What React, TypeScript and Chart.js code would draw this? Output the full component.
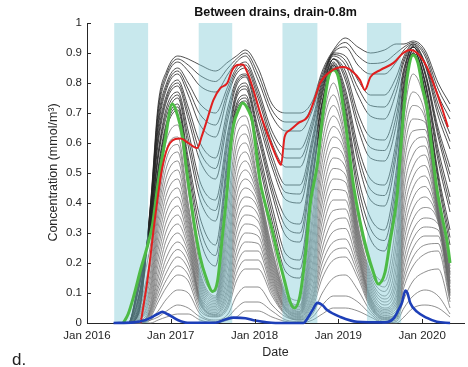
import { useEffect, useRef } from 'react';
import { Chart, registerables } from 'chart.js';

Chart.register(...registerables);

const FONT = "'Liberation Sans', Arial, Helvetica, sans-serif";

// x values are months since Jan 2016
const XTICK_VALUES = [0, 12, 24, 36, 48];
const XTICK_LABELS = ['Jan 2016', 'Jan 2017', 'Jan 2018', 'Jan 2019', 'Jan 2020'];
const YTICK_VALUES = [0, 0.1, 0.2, 0.3, 0.4, 0.5, 0.6, 0.7, 0.8, 0.9, 1];

// growing-season shaded bands (months since Jan 2016)
const BAND_START = [3.9, 16.0, 28.0, 40.1];
const BAND_END = [8.75, 20.8, 33.0, 45.0];

// shared sampling months for the family of depth curves
const GRID_MONTHS = [4.1, 5.9, 7.4, 9.1, 10.2, 11.4, 13.0, 14.5, 16.2, 18.4, 20.2, 21.4, 22.7, 24.5, 26.5, 28.5, 30.5, 32.3, 33.7, 35.3, 37.0, 38.8, 40.6, 42.6, 44.3, 45.4, 46.7, 48.4, 50.3, 52.0];

// upper (dark) curves, from the top envelope downward
const DARK_0 = [0, 0, 0.03, 0.40, 0.73, 0.84, 0.89, 0.88, 0.86, 0.84, 0.87, 0.89, 0.91, 0.85, 0.73, 0.70, 0.70, 0.74, 0.84, 0.91, 0.95, 0.92, 0.90, 0.91, 0.93, 0.93, 0.94, 0.91, 0.80, 0.73];
const DARK_1 = [0, 0, 0.035, 0.395, 0.715, 0.83, 0.88, 0.86, 0.825, 0.805, 0.85, 0.88, 0.90, 0.83, 0.71, 0.67, 0.67, 0.725, 0.83, 0.905, 0.935, 0.89, 0.865, 0.87, 0.90, 0.92, 0.935, 0.90, 0.78, 0.705];
const DARK_2 = [0, 0, 0.04, 0.39, 0.70, 0.82, 0.87, 0.84, 0.79, 0.77, 0.83, 0.87, 0.89, 0.81, 0.69, 0.64, 0.64, 0.71, 0.82, 0.90, 0.92, 0.86, 0.83, 0.83, 0.87, 0.91, 0.93, 0.89, 0.76, 0.68];
const DARK_3 = [0, 0, 0.05, 0.38, 0.68, 0.80, 0.85, 0.80, 0.73, 0.70, 0.79, 0.85, 0.87, 0.78, 0.64, 0.58, 0.58, 0.68, 0.81, 0.90, 0.89, 0.81, 0.76, 0.76, 0.82, 0.89, 0.93, 0.87, 0.73, 0.63];
const DARK_4 = [0, 0, 0.06, 0.375, 0.665, 0.79, 0.84, 0.78, 0.695, 0.66, 0.775, 0.84, 0.86, 0.765, 0.62, 0.55, 0.55, 0.665, 0.80, 0.895, 0.875, 0.785, 0.725, 0.72, 0.795, 0.88, 0.925, 0.865, 0.71, 0.605];
const DARK_5 = [0, 0, 0.07, 0.37, 0.65, 0.78, 0.83, 0.76, 0.66, 0.62, 0.76, 0.83, 0.85, 0.75, 0.60, 0.52, 0.52, 0.65, 0.79, 0.89, 0.86, 0.76, 0.69, 0.68, 0.77, 0.87, 0.92, 0.86, 0.69, 0.58];
const DARK_6 = [0, 0, 0.08, 0.36, 0.63, 0.76, 0.81, 0.72, 0.60, 0.55, 0.72, 0.81, 0.83, 0.72, 0.56, 0.46, 0.46, 0.62, 0.78, 0.88, 0.84, 0.70, 0.62, 0.61, 0.72, 0.85, 0.92, 0.84, 0.65, 0.52];
const DARK_7 = [0, 0, 0.085, 0.355, 0.615, 0.75, 0.80, 0.70, 0.57, 0.515, 0.70, 0.80, 0.825, 0.70, 0.54, 0.435, 0.43, 0.605, 0.77, 0.88, 0.825, 0.675, 0.585, 0.575, 0.69, 0.84, 0.92, 0.835, 0.635, 0.495];
const DARK_8 = [0, 0, 0.09, 0.35, 0.60, 0.74, 0.79, 0.68, 0.54, 0.48, 0.68, 0.79, 0.82, 0.68, 0.52, 0.41, 0.40, 0.59, 0.76, 0.88, 0.81, 0.65, 0.55, 0.54, 0.66, 0.83, 0.92, 0.83, 0.62, 0.47];
const DARK_9 = [0, 0, 0.11, 0.34, 0.57, 0.72, 0.77, 0.64, 0.47, 0.41, 0.64, 0.77, 0.80, 0.65, 0.47, 0.35, 0.33, 0.56, 0.74, 0.87, 0.78, 0.59, 0.48, 0.46, 0.61, 0.81, 0.91, 0.81, 0.58, 0.42];
const DARK_10 = [0, 0, 0.115, 0.335, 0.56, 0.705, 0.76, 0.615, 0.44, 0.375, 0.62, 0.76, 0.79, 0.635, 0.45, 0.32, 0.30, 0.545, 0.735, 0.865, 0.765, 0.565, 0.445, 0.425, 0.585, 0.795, 0.91, 0.805, 0.56, 0.395];
const DARK_11 = [0, 0, 0.12, 0.33, 0.55, 0.69, 0.75, 0.59, 0.41, 0.34, 0.60, 0.75, 0.78, 0.62, 0.43, 0.29, 0.27, 0.53, 0.73, 0.86, 0.75, 0.54, 0.41, 0.39, 0.56, 0.78, 0.91, 0.80, 0.54, 0.37];
const DARK_12 = [0, 0, 0.13, 0.32, 0.52, 0.67, 0.73, 0.55, 0.35, 0.26, 0.57, 0.73, 0.76, 0.59, 0.39, 0.23, 0.21, 0.50, 0.71, 0.86, 0.73, 0.49, 0.35, 0.31, 0.51, 0.76, 0.90, 0.78, 0.50, 0.31];
const DARK_13 = [0, 0, 0.135, 0.315, 0.51, 0.66, 0.72, 0.53, 0.315, 0.225, 0.55, 0.72, 0.75, 0.57, 0.365, 0.20, 0.18, 0.485, 0.705, 0.855, 0.715, 0.46, 0.315, 0.275, 0.48, 0.75, 0.90, 0.775, 0.485, 0.285];
const DARK_14 = [0, 0, 0.14, 0.31, 0.50, 0.65, 0.71, 0.51, 0.28, 0.19, 0.53, 0.71, 0.74, 0.55, 0.34, 0.17, 0.15, 0.47, 0.70, 0.85, 0.70, 0.43, 0.28, 0.24, 0.45, 0.74, 0.90, 0.77, 0.47, 0.26];

// lower (grey) curves nested below the green one, from the top downward
const GREY_0 = [0, 0, 0.09, 0.26, 0.45, 0.61, 0.66, 0.44, 0.19, 0.105, 0.45, 0.66, 0.69, 0.50, 0.28, 0.10, 0.075, 0.40, 0.66, 0.80, 0.645, 0.355, 0.19, 0.14, 0.35, 0.68, 0.83, 0.73, 0.415, 0.20];
const GREY_1 = [0, 0, 0.05, 0.22, 0.42, 0.58, 0.62, 0.40, 0.17, 0.09, 0.40, 0.62, 0.66, 0.47, 0.25, 0.09, 0.06, 0.36, 0.64, 0.76, 0.62, 0.33, 0.17, 0.12, 0.30, 0.64, 0.77, 0.70, 0.40, 0.19];
const GREY_2 = [0, 0, 0.04, 0.195, 0.395, 0.55, 0.595, 0.385, 0.16, 0.085, 0.365, 0.585, 0.63, 0.46, 0.24, 0.085, 0.055, 0.33, 0.605, 0.725, 0.605, 0.32, 0.16, 0.105, 0.26, 0.60, 0.725, 0.685, 0.39, 0.18];
const GREY_3 = [0, 0, 0.03, 0.17, 0.37, 0.52, 0.57, 0.37, 0.15, 0.08, 0.33, 0.55, 0.60, 0.45, 0.23, 0.08, 0.05, 0.30, 0.57, 0.69, 0.59, 0.31, 0.15, 0.09, 0.22, 0.56, 0.68, 0.67, 0.38, 0.17];
const GREY_4 = [0, 0, 0.025, 0.15, 0.345, 0.49, 0.54, 0.355, 0.14, 0.075, 0.30, 0.515, 0.57, 0.44, 0.22, 0.075, 0.045, 0.275, 0.535, 0.655, 0.575, 0.30, 0.14, 0.08, 0.185, 0.52, 0.64, 0.645, 0.375, 0.165];
const GREY_5 = [0, 0, 0.02, 0.13, 0.32, 0.46, 0.51, 0.34, 0.13, 0.07, 0.27, 0.48, 0.54, 0.43, 0.21, 0.07, 0.04, 0.25, 0.50, 0.62, 0.56, 0.29, 0.13, 0.07, 0.15, 0.48, 0.60, 0.62, 0.37, 0.16];
const GREY_6 = [0, 0, 0.015, 0.115, 0.295, 0.43, 0.48, 0.325, 0.12, 0.065, 0.245, 0.45, 0.51, 0.42, 0.20, 0.065, 0.038, 0.225, 0.465, 0.585, 0.54, 0.28, 0.12, 0.06, 0.125, 0.44, 0.56, 0.59, 0.365, 0.15];
const GREY_7 = [0, 0, 0.01, 0.10, 0.27, 0.40, 0.45, 0.31, 0.11, 0.06, 0.22, 0.42, 0.48, 0.41, 0.19, 0.06, 0.035, 0.20, 0.43, 0.55, 0.52, 0.27, 0.11, 0.05, 0.10, 0.40, 0.52, 0.56, 0.36, 0.14];
const GREY_8 = [0, 0, 0.01, 0.085, 0.245, 0.37, 0.42, 0.295, 0.10, 0.055, 0.195, 0.39, 0.45, 0.395, 0.18, 0.055, 0.032, 0.18, 0.40, 0.515, 0.495, 0.26, 0.10, 0.045, 0.085, 0.365, 0.485, 0.525, 0.355, 0.135];
const GREY_9 = [0, 0, 0.01, 0.07, 0.22, 0.34, 0.39, 0.28, 0.09, 0.05, 0.17, 0.36, 0.42, 0.38, 0.17, 0.05, 0.03, 0.16, 0.37, 0.48, 0.47, 0.25, 0.09, 0.04, 0.07, 0.33, 0.45, 0.49, 0.35, 0.13];
const GREY_10 = [0, 0, 0.005, 0.06, 0.195, 0.31, 0.36, 0.265, 0.085, 0.045, 0.15, 0.33, 0.39, 0.36, 0.16, 0.048, 0.028, 0.14, 0.34, 0.445, 0.44, 0.24, 0.085, 0.035, 0.06, 0.30, 0.415, 0.455, 0.345, 0.12];
const GREY_11 = [0, 0, 0, 0.05, 0.17, 0.28, 0.33, 0.25, 0.08, 0.04, 0.13, 0.30, 0.36, 0.34, 0.15, 0.045, 0.025, 0.12, 0.31, 0.41, 0.41, 0.23, 0.08, 0.03, 0.05, 0.27, 0.38, 0.42, 0.34, 0.11];
const GREY_12 = [0, 0, 0, 0.045, 0.15, 0.25, 0.30, 0.235, 0.075, 0.035, 0.115, 0.27, 0.33, 0.315, 0.14, 0.042, 0.022, 0.105, 0.28, 0.375, 0.38, 0.22, 0.075, 0.025, 0.04, 0.24, 0.345, 0.385, 0.335, 0.105];
const GREY_13 = [0, 0, 0, 0.04, 0.13, 0.22, 0.27, 0.22, 0.07, 0.03, 0.10, 0.24, 0.30, 0.29, 0.13, 0.04, 0.02, 0.09, 0.25, 0.34, 0.35, 0.21, 0.07, 0.02, 0.03, 0.21, 0.31, 0.35, 0.33, 0.10];
const GREY_14 = [0, 0, 0, 0.035, 0.115, 0.195, 0.245, 0.20, 0.065, 0.028, 0.085, 0.215, 0.27, 0.265, 0.12, 0.035, 0.018, 0.08, 0.225, 0.305, 0.315, 0.195, 0.065, 0.018, 0.025, 0.185, 0.28, 0.32, 0.31, 0.095];
const GREY_15 = [0, 0, 0, 0.03, 0.10, 0.17, 0.22, 0.18, 0.06, 0.025, 0.07, 0.19, 0.24, 0.24, 0.11, 0.03, 0.015, 0.07, 0.20, 0.27, 0.28, 0.18, 0.06, 0.015, 0.02, 0.16, 0.25, 0.29, 0.29, 0.09];
const GREY_16 = [0, 0, 0, 0.025, 0.085, 0.145, 0.19, 0.16, 0.05, 0.022, 0.06, 0.165, 0.21, 0.21, 0.10, 0.028, 0.012, 0.06, 0.175, 0.24, 0.25, 0.165, 0.055, 0.012, 0.018, 0.14, 0.22, 0.26, 0.265, 0.08];
const GREY_17 = [0, 0, 0, 0.02, 0.07, 0.12, 0.16, 0.14, 0.04, 0.02, 0.05, 0.14, 0.18, 0.18, 0.09, 0.025, 0.01, 0.05, 0.15, 0.21, 0.22, 0.15, 0.05, 0.01, 0.015, 0.12, 0.19, 0.23, 0.24, 0.07];
const GREY_18 = [0, 0, 0, 0.01, 0.04, 0.08, 0.11, 0.10, 0.03, 0.01, 0.03, 0.09, 0.12, 0.12, 0.06, 0.02, 0.01, 0.03, 0.10, 0.15, 0.16, 0.11, 0.04, 0.005, 0.01, 0.08, 0.14, 0.17, 0.18, 0.05];
const GREY_19 = [0, 0, 0, 0.01, 0.02, 0.04, 0.06, 0.05, 0.02, 0.005, 0.02, 0.05, 0.07, 0.07, 0.04, 0.01, 0.005, 0.02, 0.06, 0.09, 0.09, 0.07, 0.03, 0, 0.005, 0.05, 0.09, 0.11, 0.09, 0.03];
const GREY_20 = [0, 0, 0, 0, 0.01, 0.02, 0.03, 0.03, 0.01, 0, 0.01, 0.02, 0.04, 0.04, 0.02, 0.005, 0, 0.01, 0.03, 0.05, 0.05, 0.04, 0.02, 0, 0, 0.02, 0.05, 0.06, 0.05, 0.02];

const GREEN_X = [5.2, 5.9, 6.7, 7.7, 8.7, 9.4, 10.2, 11.2, 12.2, 13.0, 13.7, 14.1, 14.8, 15.5, 16.2, 17.0, 18.0, 18.7, 19.4, 20.1, 20.5, 21.0, 21.7, 22.3, 23.1, 23.7, 24.1, 24.8, 25.5, 26.3, 27.3, 28.3, 29.1, 29.7, 30.5, 31.3, 32.0, 33.0, 33.7, 34.6, 35.3, 36.0, 36.7, 37.4, 38.1, 39.1, 40.1, 41.0, 41.7, 42.7, 43.4, 44.4, 45.0, 45.4, 46.0, 46.7, 47.4, 48.1, 48.7, 49.4, 50.1, 50.9, 51.6, 52.0];
const GREEN_Y = [0, 0.03, 0.09, 0.18, 0.26, 0.33, 0.47, 0.61, 0.73, 0.69, 0.62, 0.54, 0.42, 0.31, 0.22, 0.155, 0.105, 0.14, 0.29, 0.45, 0.57, 0.66, 0.71, 0.733, 0.71, 0.67, 0.6, 0.47, 0.4, 0.33, 0.23, 0.14, 0.07, 0.05, 0.09, 0.23, 0.4, 0.53, 0.68, 0.82, 0.843, 0.82, 0.72, 0.6, 0.47, 0.34, 0.24, 0.17, 0.13, 0.17, 0.27, 0.42, 0.6, 0.72, 0.84, 0.893, 0.867, 0.78, 0.72, 0.58, 0.45, 0.35, 0.27, 0.2];

const RED_X = [7.7, 8.7, 9.8, 10.8, 11.9, 13.4, 14.5, 15.8, 16.4, 17.2, 18.1, 19.1, 20.1, 20.8, 21.5, 22.3, 23.0, 23.8, 24.8, 25.8, 26.7, 27.4, 27.8, 28.3, 29.1, 30.3, 31.6, 32.4, 33.4, 34.8, 36.7, 38.1, 39.1, 39.8, 40.6, 42.0, 43.9, 45.3, 46.3, 47.3, 48.7, 49.8, 50.8, 51.7];
const RED_Y = [0, 0.15, 0.36, 0.52, 0.60, 0.615, 0.60, 0.583, 0.62, 0.677, 0.743, 0.783, 0.80, 0.843, 0.86, 0.862, 0.833, 0.78, 0.70, 0.633, 0.577, 0.54, 0.527, 0.62, 0.643, 0.667, 0.687, 0.733, 0.80, 0.837, 0.853, 0.837, 0.81, 0.777, 0.82, 0.843, 0.867, 0.90, 0.91, 0.90, 0.853, 0.787, 0.72, 0.653];

const BLUE_X = [3.8, 6.7, 8.4, 9.1, 10.1, 10.8, 11.5, 13.0, 14.4, 18.4, 19.8, 21.0, 22.7, 24.1, 25.5, 27.0, 31.0, 31.7, 32.3, 33.0, 33.7, 34.4, 36.3, 38.7, 42.7, 43.9, 44.6, 45.1, 45.6, 45.9, 46.3, 47.3, 48.7, 50.1, 52.0];
const BLUE_Y = [0, 0.002, 0.01, 0.017, 0.03, 0.037, 0.03, 0.01, 0.001, 0.001, 0.012, 0.018, 0.016, 0.008, 0.003, 0, 0, 0.02, 0.043, 0.067, 0.06, 0.043, 0.02, 0.004, 0.002, 0.015, 0.043, 0.067, 0.108, 0.1, 0.067, 0.037, 0.017, 0.004, 0];

const DARK_CURVES = [DARK_0, DARK_1, DARK_2, DARK_3, DARK_4, DARK_5, DARK_6, DARK_7, DARK_8, DARK_9, DARK_10, DARK_11, DARK_12, DARK_13, DARK_14];
const GREY_CURVES = [GREY_0, GREY_1, GREY_2, GREY_3, GREY_4, GREY_5, GREY_6, GREY_7, GREY_8, GREY_9, GREY_10, GREY_11, GREY_12, GREY_13, GREY_14, GREY_15, GREY_16, GREY_17, GREY_18, GREY_19, GREY_20];

const FIRST_GREY_INDEX = 3;

const pts = (xs: number[], ys: number[]) => xs.map((x, i) => ({ x, y: ys[i] }));

const bandsPlugin = {
  id: 'bands',
  afterDatasetDraw(chart: any, args: any) {
    if (args.index !== FIRST_GREY_INDEX) return;
    const { ctx, scales } = chart;
    const xs = scales.x;
    const ys = scales.y;
    ctx.save();
    ctx.fillStyle = 'rgba(125,200,212,0.42)';
    const y0 = ys.getPixelForValue(1);
    const y1 = ys.getPixelForValue(0);
    BAND_START.forEach((s, i) => {
      const x0 = xs.getPixelForValue(s);
      const x1 = xs.getPixelForValue(BAND_END[i]);
      ctx.fillRect(x0, y0, x1 - x0, y1 - y0);
    });
    ctx.restore();
  },
};

const textPlugin = {
  id: 'texts',
  afterDraw(chart: any) {
    const { ctx, chartArea, scales } = chart;
    ctx.save();
    // inward tick marks
    ctx.strokeStyle = '#262626';
    ctx.lineWidth = 1;
    ctx.beginPath();
    YTICK_VALUES.forEach((v) => {
      const y = Math.round(scales.y.getPixelForValue(v)) + 0.5;
      ctx.moveTo(chartArea.left, y);
      ctx.lineTo(chartArea.left + 4, y);
    });
    XTICK_VALUES.forEach((v) => {
      const x = Math.round(scales.x.getPixelForValue(v)) + 0.5;
      ctx.moveTo(x, chartArea.bottom);
      ctx.lineTo(x, chartArea.bottom - 4);
    });
    ctx.stroke();

    ctx.fillStyle = '#111';
    ctx.textAlign = 'center';
    ctx.textBaseline = 'middle';
    ctx.font = `bold 12.5px ${FONT}`;
    ctx.fillText('Between drains, drain-0.8m', (chartArea.left + chartArea.right) / 2, 12.5);

    ctx.fillStyle = '#262626';
    ctx.font = `12.5px ${FONT}`;
    ctx.fillText('Date', (chartArea.left + chartArea.right) / 2, 353);

    ctx.save();
    ctx.translate(54, 172.5);
    ctx.rotate(-Math.PI / 2);
    ctx.fillText('Concentration (mmol/m³)', 0, 0);
    ctx.restore();

    ctx.textAlign = 'left';
    ctx.textBaseline = 'alphabetic';
    ctx.fillStyle = '#222';
    ctx.font = `17px ${FONT}`;
    ctx.fillText('d.', 12, 365);
    ctx.restore();
  },
};

export default function App() {
  const canvasRef = useRef<HTMLCanvasElement | null>(null);

  useEffect(() => {
    const canvas = canvasRef.current;
    if (!canvas) return;

    const datasets: any[] = [
      { label: 'blue', data: pts(BLUE_X, BLUE_Y), borderColor: '#1d3fb8', borderWidth: 2.6 },
      { label: 'red', data: pts(RED_X, RED_Y), borderColor: '#e01f1f', borderWidth: 2 },
      { label: 'green', data: pts(GREEN_X, GREEN_Y), borderColor: '#4dbb45', borderWidth: 3 },
      ...DARK_CURVES.map((c, i) => ({
        label: `dark${i}`,
        data: pts(GRID_MONTHS, c),
        borderColor: '#232323',
        borderWidth: 0.8,
      })),
      ...GREY_CURVES.map((c, i) => ({
        label: `grey${i}`,
        data: pts(GRID_MONTHS, c),
        borderColor: '#6a6a6a',
        borderWidth: 0.75,
      })),
    ].map((d) => ({
      ...d,
      pointRadius: 0,
      fill: false,
      cubicInterpolationMode: 'monotone',
      clip: false,
    }));

    const chart = new Chart(canvas, {
      type: 'line',
      data: { datasets },
      plugins: [bandsPlugin, textPlugin],
      options: {
        responsive: false,
        animation: false,
        devicePixelRatio: 1,
        layout: { padding: { left: 0, right: 4, top: 23, bottom: 0 } },
        plugins: {
          legend: { display: false },
          tooltip: { enabled: false },
          title: { display: false },
        },
        scales: {
          x: {
            type: 'linear',
            min: 0,
            max: 54,
            grid: { display: false, drawTicks: false },
            border: { display: true, color: '#262626', width: 1 },
            afterBuildTicks: (scale: any) => {
              scale.ticks = XTICK_VALUES.map((v) => ({ value: v }));
            },
            afterFit: (scale: any) => {
              scale.height = 44;
            },
            ticks: {
              padding: 6,
              maxRotation: 0,
              autoSkip: false,
              color: '#262626',
              font: { family: FONT, size: 11.5 },
              callback: (_v: any, i: number) => XTICK_LABELS[i],
            },
          },
          y: {
            type: 'linear',
            min: 0,
            max: 1,
            grid: { display: false, drawTicks: false },
            border: { display: true, color: '#262626', width: 1 },
            afterBuildTicks: (scale: any) => {
              scale.ticks = YTICK_VALUES.map((v) => ({ value: v }));
            },
            afterFit: (scale: any) => {
              scale.width = 87;
            },
            ticks: {
              padding: 5,
              autoSkip: false,
              color: '#262626',
              font: { family: FONT, size: 11.5 },
              callback: (v: any) => String(Math.round(Number(v) * 10) / 10),
            },
          },
        },
      } as any,
    });

    return () => chart.destroy();
  }, []);

  return (
    <div style={{ position: 'absolute', left: 0, top: 0, width: 468, height: 367, background: '#fff' }}>
      <canvas ref={canvasRef} width={468} height={367} style={{ display: 'block' }} />
    </div>
  );
}
